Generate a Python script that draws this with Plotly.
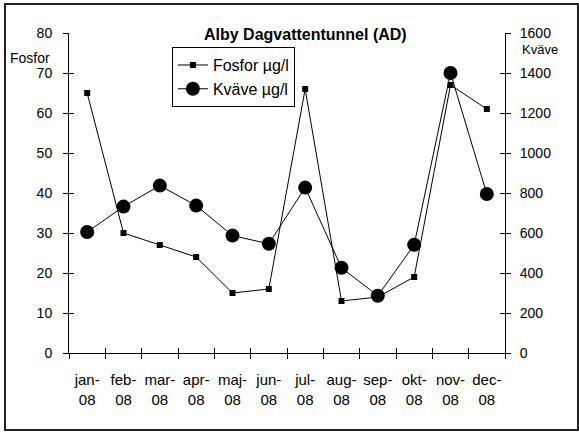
import plotly.graph_objects as go

months = ["jan-08", "feb-08", "mar-08", "apr-08", "maj-08", "jun-08",
          "jul-08", "aug-08", "sep-08", "okt-08", "nov-08", "dec-08"]
month_labels = ["jan-<br>08", "feb-<br>08", "mar-<br>08", "apr-<br>08", "maj-<br>08", "jun-<br>08",
                "jul-<br>08", "aug-<br>08", "sep-<br>08", "okt-<br>08", "nov-<br>08", "dec-<br>08"]
fosfor = [65, 30, 27, 24, 15, 16, 66, 13, 14, 19, 67, 61]
kvave = [605, 732, 837, 737, 587, 546, 827, 426, 286, 541, 1400, 795]

FONT = "Liberation Sans, Arial, sans-serif"

fig = go.Figure()
fig.add_trace(go.Scatter(
    x=months, y=fosfor, name="Fosfor µg/l", mode="lines+markers",
    line=dict(color="black", width=1),
    marker=dict(symbol="square", size=6, color="black"),
    xaxis="x", yaxis="y"))
fig.add_trace(go.Scatter(
    x=months, y=kvave, name="Kväve µg/l", mode="lines+markers",
    line=dict(color="black", width=1),
    marker=dict(symbol="circle", size=14, color="black"),
    xaxis="x", yaxis="y2"))
# empty helper traces so the inside-tick overlay axes are drawn
for xa, ya in [("x2", "y3"), ("x2", "y4")]:
    fig.add_trace(go.Scatter(x=[None], y=[None], xaxis=xa, yaxis=ya,
                             showlegend=False, hoverinfo="skip", mode="lines"))

axfont = dict(family=FONT, size=14, color="black")
fig.update_layout(
    width=579, height=432,
    margin=dict(l=69, r=74, t=33, b=79),
    paper_bgcolor="white", plot_bgcolor="white",
    font=dict(family=FONT, color="black"),
    showlegend=True,
    legend=dict(x=0.236, y=0.956, xanchor="left", yanchor="top",
                bordercolor="black", borderwidth=1, bgcolor="white",
                font=dict(family=FONT, size=16, color="black"),
                itemwidth=30, tracegroupgap=0),
    xaxis=dict(type="category", categoryorder="array", categoryarray=months,
               tickmode="array", tickvals=months, ticktext=month_labels,
               tickangle=0,
               tickson="boundaries", ticks="outside", ticklen=5, tickcolor="black",
               showline=True, linecolor="black", linewidth=1,
               showgrid=False, zeroline=False,
               tickfont=dict(family=FONT, size=15, color="black"),
               range=[-0.5, 11.5], ticklabelstandoff=13),
    yaxis=dict(range=[0, 80], dtick=10, ticks="outside", ticklen=5, tickcolor="black",
               showline=True, linecolor="black", linewidth=1, showgrid=False,
               zeroline=False, tickfont=axfont, ticklabelstandoff=8),
    yaxis2=dict(range=[0, 1600], dtick=200, overlaying="y", side="right",
                ticks="outside", ticklen=5, tickcolor="black",
                showline=True, linecolor="black", linewidth=1, showgrid=False,
                zeroline=False, tickfont=axfont, ticklabelstandoff=6),
    # inside halves of the crossing tick marks
    yaxis3=dict(range=[0, 80], dtick=10, overlaying="y", side="left",
                ticks="inside", ticklen=5, tickcolor="black", showticklabels=False,
                showline=False, showgrid=False, zeroline=False),
    yaxis4=dict(range=[0, 1600], dtick=200, overlaying="y", side="right",
                ticks="inside", ticklen=5, tickcolor="black", showticklabels=False,
                showline=False, showgrid=False, zeroline=False),
    xaxis2=dict(range=[0, 12], dtick=1, overlaying="x", side="bottom",
                ticks="inside", ticklen=5, tickcolor="black", showticklabels=False,
                showline=False, showgrid=False, zeroline=False),
)

fig.add_annotation(text="<b>Alby Dagvattentunnel (AD)</b>", xref="paper", yref="paper",
                   x=(305 - 69) / 436, y=(353 - 34) / 320, xanchor="center", yanchor="middle",
                   showarrow=False, font=dict(family=FONT, size=16, color="black"))
fig.add_annotation(text="Fosfor", xref="paper", yref="paper",
                   x=(8 - 69) / 436, y=(353 - 58) / 320, xanchor="left", yanchor="middle",
                   showarrow=False, font=dict(family=FONT, size=14, color="black"))
fig.add_annotation(text="Kväve", xref="paper", yref="paper",
                   x=(520 - 69) / 436, y=(353 - 49) / 320, xanchor="left", yanchor="middle",
                   showarrow=False, font=dict(family=FONT, size=13, color="black"))

fig.add_shape(type="rect", xref="paper", yref="paper",
              x0=(5 - 69) / 436, x1=(578 - 69) / 436,
              y0=(353 - 430) / 320, y1=(353 - 4) / 320,
              line=dict(color="#222222", width=2), fillcolor="rgba(0,0,0,0)", layer="below")

fig.write_html("out.html")
